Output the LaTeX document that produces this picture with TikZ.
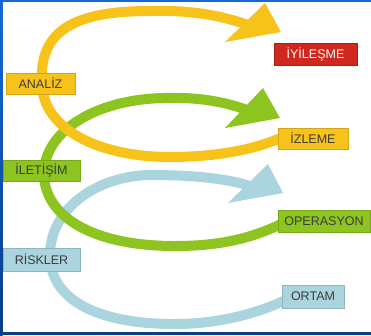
\documentclass[tikz,border=0pt]{standalone}
\usepackage{fontspec}
\setmainfont{Liberation Sans}
\definecolor{cyel}{RGB}{247,195,26}
\definecolor{cgrn}{RGB}{141,196,31}
\definecolor{cblu}{RGB}{170,213,223}
\definecolor{cred}{RGB}{208,40,30}
\definecolor{ctxt}{RGB}{60,60,60}
\definecolor{frametop}{RGB}{22,104,214}
\definecolor{framebot}{RGB}{10,60,135}
\begin{document}
\begin{tikzpicture}[x=1pt,y=-1pt,
  band/.style={line width=10pt},
  lbl/.style={inner sep=0pt, font=\fontsize{12.5}{14}\selectfont, text=ctxt},
  ybox/.style={lbl, fill=cyel, draw=cyel!85!black, line width=0.6pt},
  gbox/.style={lbl, fill=cgrn, draw=cgrn!85!black, line width=0.6pt},
  bbox/.style={lbl, fill=cblu, draw=cblu!85!black, line width=0.6pt},
  rbox/.style={lbl, fill=cred, draw=cred!80!black, line width=0.6pt, text=white!90!pink}]
\useasboundingbox (0,0) rectangle (371,335);
\fill[white] (0,0) rectangle (371,335);
% frame
\fill[frametop] (0,0) rectangle (371,2);
\shade[top color=frametop, bottom color=framebot] (0,0) rectangle (2.5,335);
\fill[framebot] (0,332) rectangle (371,335);

% blue loop
\coordinate (bs) at (290,298);
\coordinate (be) at (250,186);
\draw[band, cblu] (bs) .. controls (255,315) and (215,324) .. (175,324)
  .. controls (92,324) and (50,297) .. (50,255)
  .. controls (50,210) and (95,176) .. (150,175)
  .. controls (190,175) and (225,178) .. (be);
\fill[cblu] (268,164) -- (283,193) -- (228,203) -- cycle;

% green loop
\coordinate (gs) at (285,222);
\coordinate (ge) at (247,110);
\draw[band, cgrn] (gs) .. controls (250,240) and (215,246) .. (175,246)
  .. controls (90,246) and (45,215) .. (44,175)
  .. controls (43,132) and (95,99) .. (165,98)
  .. controls (200,97) and (225,102) .. (ge);
\fill[cgrn] (263,88) -- (280,118) -- (225,128) -- cycle;

% yellow loop
\coordinate (ys) at (285,136);
\coordinate (ye) at (248,25);
\draw[band, cyel] (ys) .. controls (255,150) and (215,157) .. (170,157)
  .. controls (100,157) and (44,130) .. (42,85)
  .. controls (38,30) and (75,11) .. (150,11)
  .. controls (190,10) and (220,15) .. (ye);
\fill[cyel] (265,3) -- (281,32) -- (225,42) -- cycle;

% labels
\node[rbox, minimum width=83pt, minimum height=22pt] (iyi) at (315.5,54) {İYİLEŞME};
\node[ybox, minimum width=69pt, minimum height=21pt] (ana) at (40.5,83.5) {ANALİZ};
\node[ybox, minimum width=70pt, minimum height=21pt] (izl) at (313,138.5) {İZLEME};
\node[gbox, minimum width=77pt, minimum height=21pt] (ile) at (41.5,170.5) {İLETİŞİM};
\node[gbox, minimum width=92pt, minimum height=22pt] (ope) at (324,221) {OPERASYON};
\node[bbox, minimum width=77pt, minimum height=23pt] (ris) at (41.5,259.5) {RİSKLER};
\node[bbox, minimum width=62pt, minimum height=23pt] (ort) at (313,296.5) {ORTAM};
\end{tikzpicture}
\end{document}
